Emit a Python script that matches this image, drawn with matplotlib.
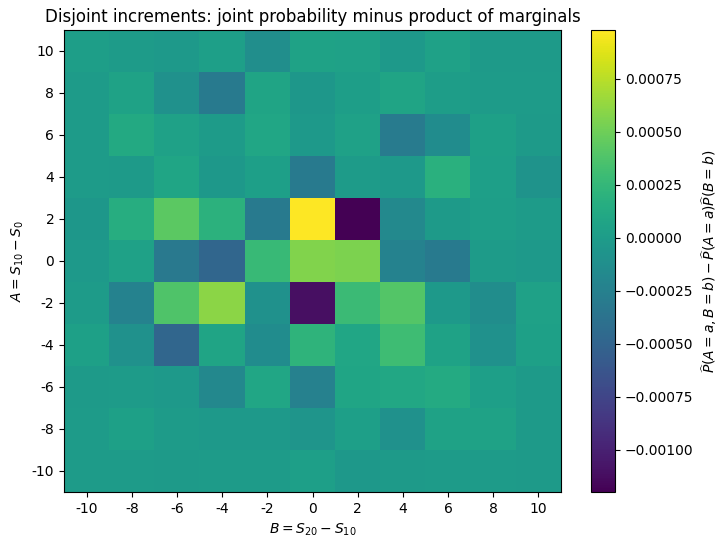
import numpy as np
import matplotlib
matplotlib.use("Agg")
import matplotlib.pyplot as plt

a_vals = [-10, -8, -6, -4, -2, 0, 2, 4, 6, 8, 10]
b_vals = [-10, -8, -6, -4, -2, 0, 2, 4, 6, 8, 10]

# rows: A = -10 ... 10 (bottom to top); columns: B = -10 ... 10
row_m10 = [0.00000, 0.00000, -0.00001, 0.00000, 0.00000, 0.00003, -0.00004, -0.00001, 0.00000, 0.00000, -0.00001]
row_m8 = [0.00000, 0.00004, 0.00000, -0.00002, -0.00002, -0.00006, 0.00003, -0.00010, 0.00006, 0.00006, -0.00001]
row_m6 = [-0.00001, 0.00000, -0.00002, -0.00018, 0.00009, -0.00024, 0.00008, 0.00011, 0.00013, 0.00003, -0.00001]
row_m4 = [0.00004, -0.00010, -0.00048, 0.00007, -0.00014, 0.00022, 0.00009, 0.00030, 0.00006, -0.00010, 0.00004]
row_m2 = [0.00000, -0.00023, 0.00038, 0.00060, -0.00010, -0.00111, 0.00029, 0.00040, -0.00002, -0.00013, 0.00005]
row_0 = [-0.00002, 0.00005, -0.00032, -0.00048, 0.00027, 0.00057, 0.00055, -0.00023, -0.00030, 0.00000, -0.00002]
row_2 = [-0.00005, 0.00016, 0.00043, 0.00020, -0.00030, 0.00098, -0.00120, -0.00017, -0.00001, 0.00002, 0.00000]
row_4 = [0.00000, -0.00001, 0.00008, -0.00004, 0.00003, -0.00030, 0.00000, -0.00003, 0.00018, 0.00003, -0.00008]
row_6 = [0.00000, 0.00012, 0.00005, 0.00000, 0.00009, -0.00002, 0.00005, -0.00029, -0.00014, 0.00004, -0.00001]
row_8 = [0.00000, 0.00006, -0.00010, -0.00030, 0.00007, -0.00005, 0.00002, 0.00007, 0.00001, 0.00000, 0.00000]
row_10 = [0.00002, 0.00000, -0.00002, 0.00003, -0.00012, 0.00006, 0.00005, -0.00003, 0.00005, -0.00001, -0.00001]

diff = np.array([row_m10, row_m8, row_m6, row_m4, row_m2, row_0,
                 row_2, row_4, row_6, row_8, row_10])

fig = plt.figure(figsize=(7.28, 5.48), dpi=100)
ax = fig.add_axes([64 / 728, 1 - 492 / 548, (561 - 64) / 728, (492 - 30) / 548])
cax = fig.add_axes([591 / 728, 1 - 492 / 548, 24 / 728, (492 - 30) / 548])

im = ax.imshow(diff, origin="lower", cmap="viridis", aspect="auto",
               extent=[b_vals[0] - 1, b_vals[-1] + 1, a_vals[0] - 1, a_vals[-1] + 1])
ax.set_xticks(b_vals, labels=[str(v) for v in b_vals])
ax.set_yticks(a_vals, labels=[str(v) for v in a_vals])
ax.set_xlabel(r"$B = S_{20} - S_{10}$")
ax.set_ylabel(r"$A = S_{10} - S_0$")
ax.set_title("Disjoint increments: joint probability minus product of marginals")

cb = fig.colorbar(im, cax=cax)
cb.set_label(r"$\widehat{P}(A=a,B=b) - \widehat{P}(A=a)\widehat{P}(B=b)$")

fig.savefig("out.png", dpi=100)
